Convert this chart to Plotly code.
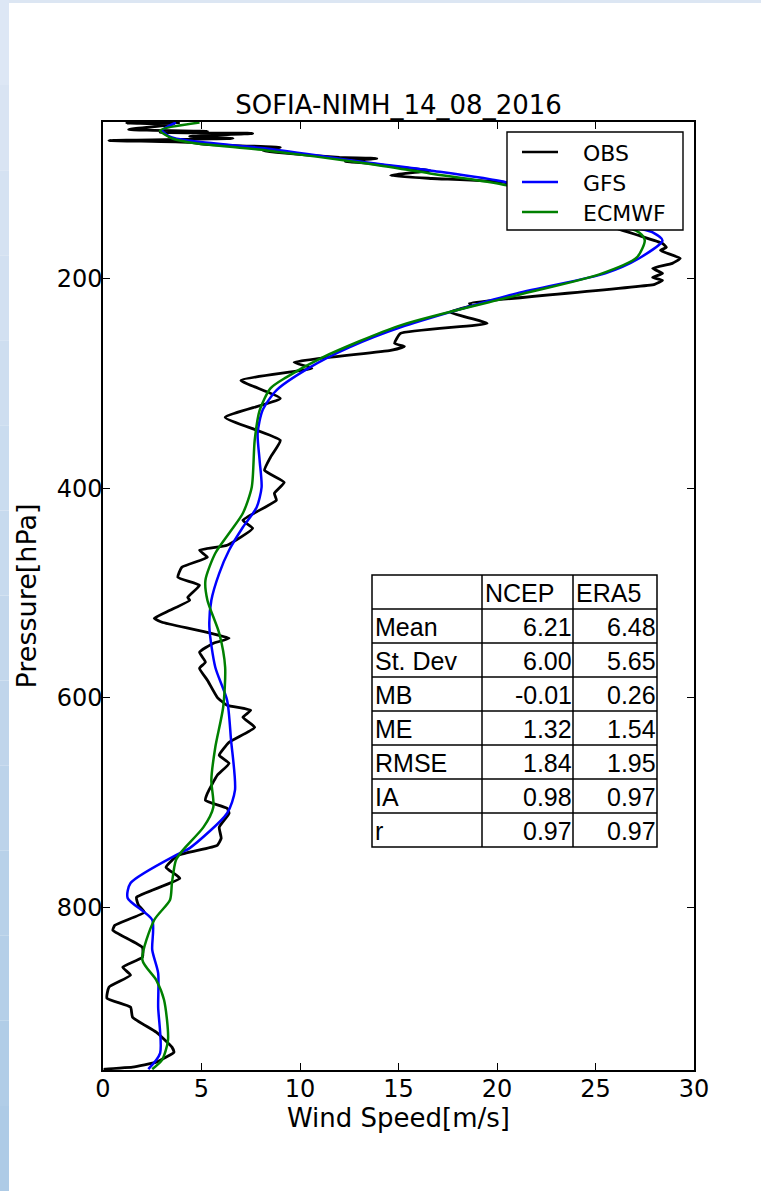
import plotly.graph_objects as go

# ---------------- data ----------------
obs_speed = [3.9, 1.2, 3.6, 1.3, 5.3, 2.9, 7.6, 4.4, 6.6, 0.3,
             4.4, 5.2, 9.0, 8.1, 8.8, 12.0, 13.9, 12.3, 13.5, 15.1,
             16.6, 14.6, 16.7, 20.4, 22.2, 24.7, 26.1, 27.2, 28.4, 28.6,
             28.3, 29.3, 28.9, 27.9, 28.4, 27.9, 28.4, 28.0, 18.6, 18.7,
             17.6, 19.5, 15.1, 14.8, 15.3, 14.6, 9.7, 10.6, 7.0, 9.0,
             6.2, 9.0, 8.5, 8.2, 9.2, 8.7, 8.8, 7.1, 7.6, 6.3,
             4.9, 5.3, 4.0, 3.8, 4.9, 4.3, 4.4, 3.4, 2.6, 3.0,
             6.4, 5.6, 4.9, 5.2, 4.9, 5.3, 5.8, 6.3, 7.5, 7.1,
             7.7, 6.4, 5.9, 6.4, 5.8, 5.3, 5.2, 6.3, 6.4, 5.9,
             6.0, 5.8, 3.8, 3.2, 3.9, 1.7, 1.8, 2.1, 0.6, 0.5,
             2.0, 2.0, 1.0, 1.4, 0.3, 0.2, 1.4, 1.5, 2.7, 3.5,
             3.6, 2.7, 1.5, 0.1, 0.05]
obs_pres = [51, 51.5, 52.8, 57.6, 59.5, 60.5, 61.4, 64.3, 66.2, 68.1,
            70.0, 71.9, 74.8, 77.6, 79.5, 84.3, 85.3, 88.1, 90.0, 93.9,
            96.7, 101.5, 104.4, 108.2, 120.6, 134.9, 152.0, 158.7, 166.3, 170.1,
            173.0, 180.6, 185.4, 190.2, 194.9, 198.8, 201.6, 205.4, 223.6, 225.5,
            232.1, 242.6, 252.2, 261.7, 264.6, 268.4, 279.8, 285.5, 297.0, 314.2,
            332.3, 354.2, 370.4, 382.8, 394.3, 404.8, 411.4, 430.5, 438.1, 454.3,
            459.1, 465.8, 475.3, 484.9, 492.5, 504.0, 506.8, 516.4, 524.0, 527.8,
            543.1, 547.8, 556.4, 565.9, 571.7, 583.1, 599.4, 607.0, 611.8, 618.5,
            628.0, 642.3, 654.7, 662.4, 673.8, 691.0, 697.7, 705.3, 710.1, 723.4,
            733.9, 740.6, 750.1, 761.6, 772.1, 790.2, 797.8, 804.5, 816.9, 821.6,
            837.9, 847.4, 856.9, 864.5, 876.0, 886.5, 895.1, 904.6, 918.9, 933.2,
            938.0, 947.5, 952.3, 954.2, 955.0]

gfs_speed = [3.7, 3.0, 3.5, 4.3, 8.3, 13.4, 16.6, 20.5, 23.2, 25.7,
             27.2, 27.9, 28.4, 27.2, 25.5, 21.0, 15.1, 12.5, 10.5, 8.8,
             8.1, 7.85, 7.95, 8.05, 7.8, 7.1, 6.4, 5.9, 5.5, 5.4,
             5.7, 6.3, 6.5, 6.7, 6.3, 4.4, 3.9, 1.4, 1.25, 2.5,
             2.5, 2.8, 2.8, 2.9, 2.3]
gfs_pres = [51, 58.6, 65.3, 68.1, 75.8, 89.1, 96.7, 108.2, 125.3, 141.5,
            152.0, 155.8, 163.5, 180.7, 194.9, 214.0, 246.4, 265.5, 284.6, 306.5,
            325.6, 347.5, 373.3, 399.0, 418.1, 437.2, 459.1, 481.1, 506.8, 532.6,
            570.7, 602.2, 640.3, 688.0, 710.0, 743.3, 748.0, 776.6, 790.9, 811.9,
            840.5, 862.5, 894.9, 938.8, 954.2]

ec_speed = [4.9, 2.9, 3.5, 4.4, 8.3, 13.4, 16.6, 20.5, 23.2, 25.7,
            27.2, 27.5, 27.1, 25.2, 21.0, 15.1, 11.15, 9.3, 8.5, 7.95,
            7.7, 7.55, 7.1, 6.4, 5.7, 5.2, 5.3, 5.9, 6.2, 6.1,
            5.7, 5.5, 5.6, 5.1, 4.05, 3.7, 3.5, 3.4, 2.6, 2.0,
            2.7, 3.1, 3.3, 3.0, 2.5]
ec_pres = [51, 58.6, 66.2, 70.0, 77.6, 90.0, 99.6, 111.0, 128.2, 144.5,
           155.8, 163.5, 179.7, 195.9, 215.9, 244.5, 275.0, 294.1, 304.6, 325.6,
           354.2, 399.0, 423.8, 442.9, 462.0, 487.7, 506.8, 538.3, 570.7, 608.9,
           647.0, 678.5, 704.2, 723.3, 745.3, 754.8, 776.6, 792.8, 811.9, 850.0,
           869.1, 888.2, 926.4, 945.4, 954.2]

series_names = ["OBS", "GFS", "ECMWF"]
series_colors = ["#000000", "#0000ff", "#008000"]

table_header = ["", "NCEP", "ERA5"]
stat_names = ["Mean", "St. Dev", "MB", "ME", "RMSE", "IA", "r"]
ncep_vals = ["6.21", "6.00", "-0.01", "1.32", "1.84", "0.98", "0.97"]
era5_vals = ["6.48", "5.65", "0.26", "1.54", "1.95", "0.97", "0.97"]

x_ticks = [0, 5, 10, 15, 20, 25, 30]
y_ticks = [200, 400, 600, 800]

# ---------------- layout geometry (pixels) ----------------
W, H = 761, 1191
PL, PR, PT, PB = 103, 694, 122, 1070


def fx(px):
    return (px - PL) / (PR - PL)


def fy(py):
    return (PB - py) / (PB - PT)


fig = go.Figure()
for xs, ys, name, col, lw, sm in [
    (obs_speed, obs_pres, series_names[0], series_colors[0], 2.8, 0.4),
    (gfs_speed, gfs_pres, series_names[1], series_colors[1], 2.5, 0.7),
    (ec_speed, ec_pres, series_names[2], series_colors[2], 2.5, 0.7),
]:
    fig.add_trace(go.Scatter(x=xs, y=ys, mode="lines", name=name, showlegend=False,
                             line=dict(color=col, width=lw, shape="spline", smoothing=sm)))

shapes = []
# page background strips (light blue gradient at the left edge and top)
n_bands = 14
for i in range(n_bands):
    t = i / (n_bands - 1)
    r = int(0xdd + (0xae - 0xdd) * t)
    g = int(0xe7 + (0xcb - 0xe7) * t)
    b = int(0xf5 + (0xe6 - 0xf5) * t)
    y0 = i * H / n_bands
    y1 = (i + 1) * H / n_bands
    shapes.append(dict(type="rect", xref="paper", yref="paper",
                       x0=fx(0), x1=fx(9), y0=fy(y1), y1=fy(y0),
                       fillcolor=f"rgb({r},{g},{b})", line=dict(width=0), layer="below"))
shapes.append(dict(type="rect", xref="paper", yref="paper",
                   x0=fx(9), x1=fx(W), y0=fy(3), y1=fy(0),
                   fillcolor="#dce6f3", line=dict(width=0), layer="below"))

annotations = []

# legend (drawn as a framed box with line samples)
LG_L, LG_R, LG_T, LG_B = 507, 683, 132, 230
shapes.append(dict(type="rect", xref="paper", yref="paper",
                   x0=fx(LG_L), x1=fx(LG_R), y0=fy(LG_B), y1=fy(LG_T),
                   fillcolor="white", line=dict(color="black", width=1.4)))
for k, (nm, col) in enumerate(zip(series_names, series_colors)):
    yy = 152 + 30 * k
    shapes.append(dict(type="line", xref="paper", yref="paper",
                       x0=fx(522), x1=fx(558), y0=fy(yy), y1=fy(yy),
                       line=dict(color=col, width=2.5)))
    annotations.append(dict(xref="paper", yref="paper", x=fx(581), y=fy(yy + 1),
                            text=nm, showarrow=False, xanchor="left", yanchor="middle",
                            font=dict(family="DejaVu Sans", size=22, color="black")))

# statistics table
TL, TR, TT = 372, 657, 575
row_h = 34
col_x = [TL, 482, 573, TR]
n_rows = len(stat_names) + 1
TB = TT + row_h * n_rows
shapes.append(dict(type="rect", xref="paper", yref="paper",
                   x0=fx(TL), x1=fx(TR), y0=fy(TB), y1=fy(TT),
                   fillcolor="white", line=dict(color="black", width=1.5)))
for cx in col_x[1:-1]:
    shapes.append(dict(type="line", xref="paper", yref="paper",
                       x0=fx(cx), x1=fx(cx), y0=fy(TB), y1=fy(TT),
                       line=dict(color="black", width=1.5)))
for i in range(1, n_rows):
    yy = TT + i * row_h
    shapes.append(dict(type="line", xref="paper", yref="paper",
                       x0=fx(TL), x1=fx(TR), y0=fy(yy), y1=fy(yy),
                       line=dict(color="black", width=1.5)))

tfont = dict(family="Liberation Sans, Arial", size=25, color="black")
for j, htxt in enumerate(table_header):
    if htxt:
        annotations.append(dict(xref="paper", yref="paper", x=fx(col_x[j] + 1),
                                y=fy(TT + row_h / 2 + 1), text=htxt, showarrow=False,
                                xanchor="left", yanchor="middle", font=tfont))
for i, nm in enumerate(stat_names):
    yc = TT + (i + 1.5) * row_h + 1
    annotations.append(dict(xref="paper", yref="paper", x=fx(TL + 1), y=fy(yc),
                            text=nm, showarrow=False, xanchor="left", yanchor="middle", font=tfont))
    annotations.append(dict(xref="paper", yref="paper", x=fx(col_x[2] + 1), y=fy(yc),
                            text=ncep_vals[i], showarrow=False, xanchor="right", yanchor="middle", font=tfont))
    annotations.append(dict(xref="paper", yref="paper", x=fx(col_x[3] + 1), y=fy(yc),
                            text=era5_vals[i], showarrow=False, xanchor="right", yanchor="middle", font=tfont))

axis_font = dict(family="DejaVu Sans", size=24, color="black")
fig.update_layout(
    width=W, height=H, autosize=False,
    margin=dict(l=PL, r=W - PR, t=PT, b=H - PB),
    paper_bgcolor="white", plot_bgcolor="white",
    title=dict(text="SOFIA-NIMH_14_08_2016", x=0.5, xref="paper", xanchor="center",
               y=1 - 105 / H, yref="container", yanchor="middle",
               font=dict(family="DejaVu Sans", size=26, color="black")),
    xaxis=dict(range=[0, 30], tickvals=x_ticks, ticks="inside", ticklen=7, tickwidth=1,
               tickcolor="black", showline=True, linecolor="black", linewidth=1.5, mirror="ticks",
               showgrid=False, zeroline=False, tickfont=axis_font, ticklabelstandoff=-4,
               title=dict(text="Wind Speed[m/s]", font=dict(family="DejaVu Sans", size=26, color="black"),
                          standoff=5)),
    yaxis=dict(range=[955, 50.5], tickvals=y_ticks, ticks="inside", ticklen=7, tickwidth=1,
               tickcolor="black", showline=True, linecolor="black", linewidth=1.5, mirror="ticks",
               showgrid=False, zeroline=False, tickfont=axis_font, ticklabelstandoff=-6,
               title=dict(text="Pressure[hPa]", font=dict(family="DejaVu Sans", size=27, color="black"),
                          standoff=12)),
    shapes=shapes,
    annotations=annotations,
)

fig.write_html("out.html", config={"displayModeBar": False},
               post_script="document.body.style.margin='0px';document.body.style.padding='0px';")
